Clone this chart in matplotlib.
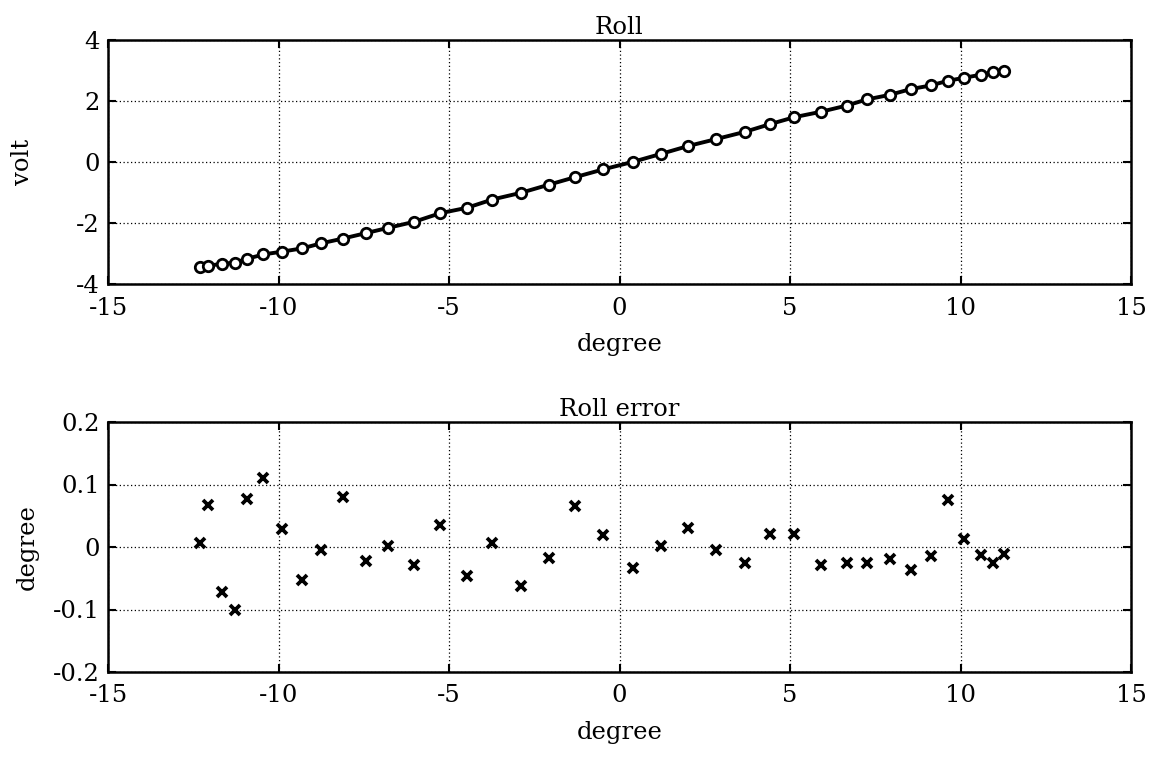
import matplotlib
matplotlib.use("Agg")
import matplotlib.pyplot as plt

plt.rcParams['font.family'] = ['DejaVu Serif']
plt.rcParams['axes.unicode_minus'] = False

angle_deg = [-12.31, -12.06, -11.67, -11.28, -10.91, -10.44, -9.90, -9.30, -8.76, -8.11,
             -7.43, -6.79, -6.02, -5.26, -4.47, -3.73, -2.89, -2.06, -1.31, -0.47,
             0.41, 1.23, 2.00, 2.83, 3.68, 4.41, 5.13, 5.92, 6.66, 7.25,
             7.92, 8.54, 9.13, 9.62, 10.10, 10.59, 10.95, 11.29]

roll_volt = [-3.44, -3.40, -3.34, -3.30, -3.17, -3.03, -2.94, -2.83, -2.67, -2.51,
             -2.33, -2.16, -1.96, -1.68, -1.50, -1.23, -1.01, -0.74, -0.50, -0.24,
             0.01, 0.27, 0.52, 0.75, 0.99, 1.24, 1.47, 1.65, 1.85, 2.05,
             2.20, 2.39, 2.51, 2.66, 2.76, 2.86, 2.94, 2.98]

roll_error = [0.006, 0.067, -0.072, -0.100, 0.077, 0.111, 0.029, -0.053, -0.005, 0.080,
              -0.023, 0.001, -0.028, 0.035, -0.046, 0.006, -0.062, -0.018, 0.065, 0.019,
              -0.034, 0.001, 0.030, -0.004, -0.025, 0.021, 0.021, -0.028, -0.025, -0.025,
              -0.019, -0.037, -0.014, 0.075, 0.013, -0.013, -0.025, -0.011]

x_ticks = [-15, -10, -5, 0, 5, 10, 15]
y_ticks_top = [-4, -2, 0, 2, 4]
y_ticks_bot = [-0.2, -0.1, 0, 0.1, 0.2]
y_ticklabels_bot = ['-0.2', '-0.1', '0', '0.1', '0.2']

W, H = 1157, 760
fig = plt.figure(figsize=(W / 100, H / 100), dpi=100)

def frac(l, t, r, b):
    return [l / W, 1 - b / H, (r - l) / W, (b - t) / H]

ax1 = fig.add_axes(frac(108, 40, 1131, 284))
ax2 = fig.add_axes(frac(108, 422, 1131, 672))

fs = 17.5
for ax in (ax1, ax2):
    ax.set_xlim(-15, 15)
    ax.set_xticks(x_ticks)
    ax.set_xticklabels([str(v) for v in x_ticks])
    ax.grid(True, linestyle=(0, (1, 2)), color='black', linewidth=0.9)
    ax.tick_params(direction='in', top=True, right=True, length=6, width=1.5,
                   labelsize=fs, pad=6)
    ax.tick_params(axis='x', pad=9)
    for s in ax.spines.values():
        s.set_linewidth(1.8)
    ax.set_xlabel('degree', fontsize=fs, labelpad=10)

ax1.plot(angle_deg, roll_volt, color='black', linewidth=2.8, marker='o',
         markersize=7.5, markerfacecolor='white', markeredgecolor='black',
         markeredgewidth=2.0)
ax1.set_ylim(-4, 4)
ax1.set_yticks(y_ticks_top)
ax1.set_yticklabels([str(v) for v in y_ticks_top])
ax1.set_ylabel('volt', fontsize=fs, labelpad=30)
ax1.set_title('Roll', fontsize=fs, pad=4)

ax2.plot(angle_deg, roll_error, linestyle='none', marker='x', markersize=7.5,
         color='black', markeredgewidth=2.7)
ax2.set_ylim(-0.2, 0.2)
ax2.set_yticks(y_ticks_bot)
ax2.set_yticklabels(y_ticklabels_bot)
ax2.set_ylabel('degree', fontsize=fs, labelpad=10)
ax2.set_title('Roll error', fontsize=fs, pad=4)

fig.savefig('out.png', dpi=100, facecolor='white')
